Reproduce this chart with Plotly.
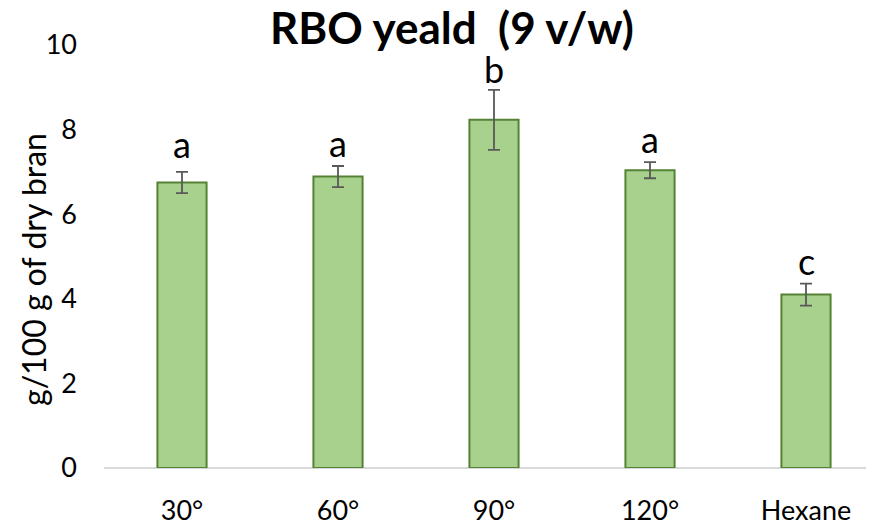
import plotly.graph_objects as go

categories = ["30°", "60°", "90°", "120°", "Hexane"]
values = [6.75, 6.89, 8.23, 7.04, 4.10]
errors = [0.25, 0.25, 0.71, 0.19, 0.26]
letters = ["a", "a", "b", "a", "c"]
letter_y = [7.34, 7.36, 9.11, 7.45, 4.57]
y_ticks = [0, 2, 4, 6, 8, 10]

FONT = "Lato"
OFF = 8  # default page body margin
W, H = 874 - OFF, 525 - OFF
L, R, T = 104 - OFF, 0, 45 - OFF
B = H - (468 - OFF)
PW, PH = W - L - R, H - T - B

fig = go.Figure()
fig.add_trace(go.Bar(
    x=list(range(len(categories))),
    y=values,
    width=0.315,
    marker=dict(color="#A9D18E", line=dict(color="#548235", width=2)),
    error_y=dict(type="data", array=errors, visible=True, color="#595959",
                 thickness=1.8, width=6),
))

for i, (t, ly) in enumerate(zip(letters, letter_y)):
    fig.add_annotation(x=i, y=ly, xref="x", yref="y", text=t, showarrow=False,
                       yanchor="bottom", yshift=-10,
                       font=dict(family=FONT, size=36, color="#000000"))

fig.add_annotation(x=((33 - OFF) - L) / PW, y=((468 - OFF) - (270 - OFF)) / PH,
                   xref="paper", yref="paper", text="g/100 g of dry bran",
                   textangle=-90, showarrow=False, xanchor="center", yanchor="middle",
                   font=dict(family=FONT, size=32, color="#000000"))

fig.update_layout(
    width=W, height=H,
    margin=dict(l=L, r=R, t=T, b=B, pad=0),
    paper_bgcolor="white", plot_bgcolor="white",
    showlegend=False,
    title=dict(text="<b>RBO yeald &nbsp;(9 v/w)</b>", x=(452 - OFF) / W, xanchor="center",
               y=1 - (29 - OFF) / H, yanchor="middle", yref="container",
               font=dict(family=FONT, size=44, color="#000000")),
    xaxis=dict(range=[-0.5, -0.5 + PW / 156.0], automargin=False,
               tickmode="array", tickvals=list(range(len(categories))),
               ticktext=categories, showgrid=False, zeroline=False,
               showline=False, ticks="", ticklabelstandoff=24,
               tickfont=dict(family=FONT, size=27, color="#000000")),
    yaxis=dict(range=[0, 10], tickvals=y_ticks, showgrid=False, automargin=False,
               zeroline=True, zerolinecolor="#D9D9D9", zerolinewidth=2,
               showline=False, ticks="", ticklabelstandoff=26,
               tickfont=dict(family=FONT, size=27, color="#000000")),
)

fig.write_html("out.html")
